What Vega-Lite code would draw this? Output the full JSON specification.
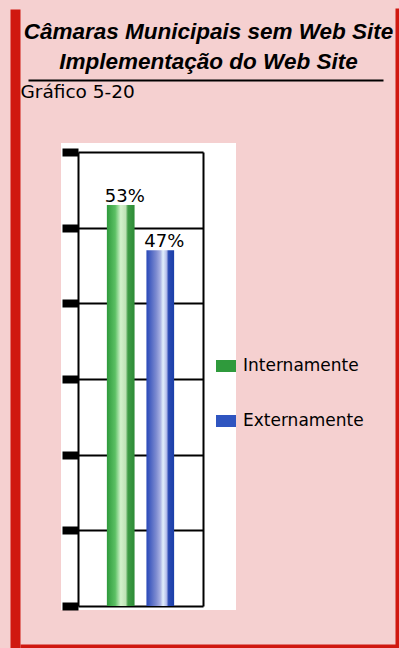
{
  "$schema": "https://vega.github.io/schema/vega-lite/v6.json",
  "width": 175,
  "height": 467,
  "autosize": {"type": "none"},
  "padding": {"left": 61, "top": 143, "right": 163, "bottom": 38},
  "background": "#f5d0d0",
  "config": {"view": {"fill": "white", "stroke": null}, "font": "DejaVu Sans"},
  "title": {
    "text": ["Câmaras Municipais sem Web Site", "Implementação do Web Site"],
    "font": "Liberation Sans",
    "fontSize": 22.5,
    "fontStyle": "italic",
    "fontWeight": "bold",
    "color": "black",
    "anchor": "middle",
    "dx": 60,
    "dy": 57,
    "offset": 12,
    "lineHeight": 30
  },
  "data": {
    "values": [
      {"categoria": "Internamente", "valor": 0.53, "rotulo": "53%"},
      {"categoria": "Externamente", "valor": 0.47, "rotulo": "47%"}
    ]
  },
  "layer": [
    {
      "mark": {"type": "bar"},
      "encoding": {
        "x": {"field": "categoria", "type": "nominal", "sort": null,
          "scale": {"type": "band", "range": [17, 142], "paddingInner": 0.3, "paddingOuter": 0.73},
          "axis": null},
        "y": {"field": "valor", "type": "quantitative",
          "scale": {"domain": [0, 0.6], "range": [463, 9], "nice": false},
          "axis": {"orient": "left", "offset": -17, "values": [0, 0.1, 0.2, 0.3, 0.4, 0.5, 0.6],
            "labels": false, "ticks": true, "tickSize": 16, "tickWidth": 8, "tickColor": "black",
            "domainColor": "black", "domainWidth": 2,
            "grid": true, "gridColor": "black", "gridWidth": 2, "gridOpacity": 1,
            "title": "Gráfico 5-20", "titleAngle": 0, "titleAlign": "left", "titleBaseline": "alphabetic",
            "titleX": -58, "titleY": -46, "titleFont": "DejaVu Sans", "titleFontSize": 18.5,
            "titleFontWeight": "normal", "titleColor": "black"}},
        "color": {"field": "categoria", "type": "nominal", "sort": null,
          "scale": {"domain": ["Internamente", "Externamente"], "range": ["#2f9a3c", "#2f55c0"]},
          "condition": [
            {"test": "datum.categoria === 'Internamente'", "value": {"gradient": "linear", "x1": 0, "x2": 1, "y1": 0, "y2": 0,
              "stops": [{"offset": 0, "color": "#2f9a3c"}, {"offset": 0.3, "color": "#5cc064"}, {"offset": 0.5, "color": "#d4f2cc"}, {"offset": 0.68, "color": "#bfe3b6"}, {"offset": 0.76, "color": "#3f9c46"}, {"offset": 1, "color": "#2d8c36"}]}},
            {"test": "datum.categoria === 'Externamente'", "value": {"gradient": "linear", "x1": 0, "x2": 1, "y1": 0, "y2": 0,
              "stops": [{"offset": 0, "color": "#2848b8"}, {"offset": 0.35, "color": "#7c8ad0"}, {"offset": 0.5, "color": "#a8b0e2"}, {"offset": 0.6, "color": "#e2f0fc"}, {"offset": 0.72, "color": "#b8c0ec"}, {"offset": 0.8, "color": "#2a4ab4"}, {"offset": 1, "color": "#1a3ea8"}]}}
          ],
          "legend": {"orient": "none", "legendX": 155, "legendY": 213, "title": null,
            "symbolType": "M-1,-0.6H1V0.6H-1Z", "symbolSize": 400, "symbolStrokeWidth": 0, "symbolOpacity": 1,
            "labelFont": "DejaVu Sans", "labelFontSize": 17, "labelColor": "black", "labelOffset": 7,
            "rowPadding": 37, "padding": 0}}
      }
    },
    {
      "mark": {"type": "text", "baseline": "alphabetic", "dy": -3, "dx": 4, "fontSize": 18, "font": "DejaVu Sans", "color": "black"},
      "encoding": {
        "x": {"field": "categoria", "type": "nominal", "sort": null,
          "scale": {"type": "band", "range": [17, 142], "paddingInner": 0.3, "paddingOuter": 0.73},
          "axis": null},
        "y": {"field": "valor", "type": "quantitative",
          "scale": {"domain": [0, 0.6], "range": [463, 9], "nice": false},
          "axis": {"orient": "right", "offset": -33, "labels": false, "ticks": false, "grid": false,
            "domainColor": "black", "domainWidth": 2, "title": null}},
        "text": {"field": "rotulo"}
      }
    },
    {
      "mark": {"type": "point", "opacity": 0},
      "encoding": {
        "x": {"field": "valor", "type": "quantitative", "scale": {"range": [-33, 322]},
          "axis": {"orient": "top", "offset": 63, "labels": false, "ticks": false, "grid": false,
            "domainColor": "black", "domainWidth": 2, "title": null}},
        "y": {"field": "valor", "type": "quantitative", "scale": {"range": [505, -134]},
          "axis": {"orient": "left", "offset": 46, "labels": false, "ticks": false, "grid": false,
            "domainColor": "#d01810", "domainWidth": 10, "title": null}}
      }
    },
    {
      "mark": {"type": "point", "opacity": 0},
      "encoding": {
        "x": {"field": "valor", "type": "quantitative", "scale": {"range": [-41, 338]},
          "axis": {"orient": "bottom", "offset": 36, "labels": false, "ticks": false, "grid": false,
            "domainColor": "#d01810", "domainWidth": 4, "title": null}},
        "y": {"field": "valor", "type": "quantitative", "scale": {"range": [505, -135]},
          "axis": {"orient": "right", "offset": 161, "labels": false, "ticks": false, "grid": false,
            "domainColor": "#d01810", "domainWidth": 4, "title": null}}
      }
    }
  ],
  "resolve": {"scale": {"x": "independent", "y": "independent"}}
}
